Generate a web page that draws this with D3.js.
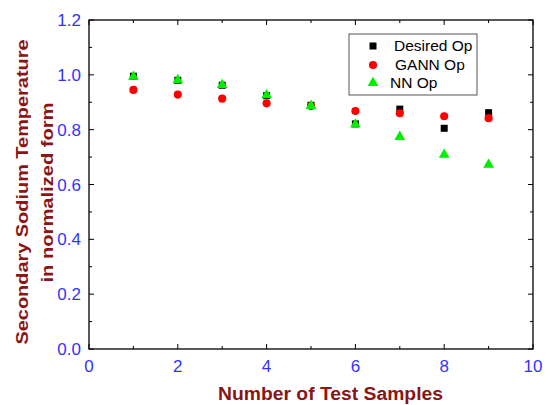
<!DOCTYPE html>
<html><head><meta charset="utf-8">
<script src="https://cdn.jsdelivr.net/npm/d3@7"></script>
<style>body{margin:0;background:#fff}svg{display:block}</style>
</head><body>
<svg id="c" width="550" height="405"></svg>
<script>
const samples = [1,2,3,4,5,6,7,8,9];
const desiredOp = [0.995,0.980,0.962,0.924,0.889,0.821,0.875,0.805,0.862];
const gannOp = [0.945,0.928,0.913,0.896,0.886,0.868,0.860,0.849,0.842];
const nnOp = [0.993,0.981,0.963,0.926,0.887,0.819,0.774,0.709,0.672];
const xTicks = [0,2,4,6,8,10];
const yTicks = [0,0.2,0.4,0.6,0.8,1.0,1.2];
const seriesNames = ["Desired Op","GANN Op","NN Op"];

const svg = d3.select("#c");
const L=89,R=533,T=20,B=349;
const x = d3.scaleLinear().domain([0,10]).range([L,R]);
const y = d3.scaleLinear().domain([0,1.2]).range([B,T]);
const font = "'Liberation Sans', Arial, sans-serif";
const blue = "#3333ff", title="#8b1414";

const xMinor = d3.range(1,10,2), yMinor = d3.range(0.1,1.2,0.2);
const g = svg.append("g").attr("stroke","#000").attr("stroke-width",1);
function vt(v,len){ g.append("line").attr("x1",x(v)).attr("x2",x(v)).attr("y1",B).attr("y2",B-len);
  g.append("line").attr("x1",x(v)).attr("x2",x(v)).attr("y1",T).attr("y2",T+len);}
function ht(v,len){ g.append("line").attr("y1",y(v)).attr("y2",y(v)).attr("x1",L).attr("x2",L+len);
  g.append("line").attr("y1",y(v)).attr("y2",y(v)).attr("x1",R).attr("x2",R-len);}
xTicks.forEach(v=>vt(v,5)); xMinor.forEach(v=>vt(v,3));
yTicks.forEach(v=>ht(v,5)); yMinor.forEach(v=>ht(v,3));
svg.append("rect").attr("x",L).attr("y",T).attr("width",R-L).attr("height",B-T)
  .attr("fill","none").attr("stroke","#000").attr("stroke-width",1.3);

svg.append("g").selectAll("text").data(xTicks).join("text")
  .attr("x",d=>x(d)).attr("y",372).attr("text-anchor","middle")
  .attr("font-family",font).attr("font-size",17).attr("fill",blue).text(d=>d);
svg.append("g").selectAll("text").data(yTicks).join("text")
  .attr("x",81).attr("y",d=>y(d)+6).attr("text-anchor","end")
  .attr("font-family",font).attr("font-size",17).attr("fill",blue).text(d=>d.toFixed(1));

svg.append("text").attr("x",218).attr("y",400)
  .attr("textLength",225).attr("lengthAdjust","spacingAndGlyphs")
  .attr("font-family",font).attr("font-size",17.5).attr("font-weight","bold").attr("fill",title)
  .text("Number of Test Samples");
const yt = svg.append("g").attr("transform","translate(0,192.5) rotate(-90)");
yt.append("text").attr("x",-152).attr("y",28).attr("textLength",305).attr("lengthAdjust","spacingAndGlyphs")
  .attr("font-family",font).attr("font-size",17).attr("font-weight","bold").attr("fill",title)
  .text("Secondary Sodium Temperature");
yt.append("text").attr("x",-90).attr("y",53).attr("textLength",180).attr("lengthAdjust","spacingAndGlyphs")
  .attr("font-family",font).attr("font-size",17).attr("font-weight","bold").attr("fill",title)
  .text("in normalized form");

const sq = d3.symbol().type(d3.symbolSquare).size(49);
const ci = d3.symbol().type(d3.symbolCircle).size(52);
const tr = d3.symbol().type(d3.symbolTriangle).size(50);
svg.append("g").selectAll("path").data(samples).join("path")
  .attr("d",sq).attr("transform",(d,i)=>`translate(${x(d)},${y(desiredOp[i])})`).attr("fill","#000");
svg.append("g").selectAll("path").data(samples).join("path")
  .attr("d",ci).attr("transform",(d,i)=>`translate(${x(d)},${y(gannOp[i])})`).attr("fill","#ff0000");
svg.append("g").selectAll("path").data(samples).join("path")
  .attr("d",tr).attr("transform",(d,i)=>`translate(${x(d)},${y(nnOp[i])})`).attr("fill","#00ee00");

const lg = svg.append("g");
lg.append("rect").attr("x",349).attr("y",34).attr("width",128).attr("height",61)
  .attr("fill","#fff").attr("stroke","#555").attr("stroke-width",1);
const syms=[sq,ci,tr], cols=["#000","#ff0000","#00ee00"], ly=[46,65,83], tx=[394,395,390];
seriesNames.forEach((n,i)=>{
  lg.append("path").attr("d",syms[i]).attr("transform",`translate(373,${ly[i]})`).attr("fill",cols[i]);
  lg.append("text").attr("x",tx[i]).attr("y",ly[i]+5).attr("font-family",font).attr("font-size",15.5)
    .attr("fill","#000").text(n);
});
</script>
</body></html>
